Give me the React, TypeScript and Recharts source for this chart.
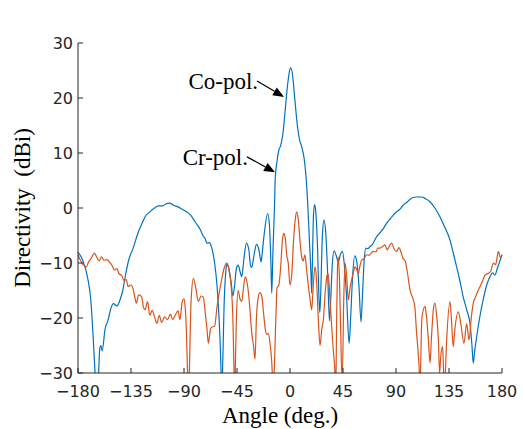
import { LineChart, Line, XAxis, YAxis, ReferenceLine } from 'recharts';

const angleTicks = [-180, -135, -90, -45, 0, 45, 90, 135, 180];
const dbTicks = [-30, -20, -10, 0, 10, 20, 30];

// Co-pol. (angle, dBi) -- values under -30 fall outside the axis and get clipped
const coPolAngle = [
  -180, -176, -172, -169, -167, -165.5, -164, -162.5, -161.5, -160.5, -159.5, -157, -154.5, -152, -150, -147, -144, -142,
  -139.5, -137, -133, -129, -126, -123, -119, -115, -112, -108, -105, -102, -99, -95, -91, -87, -84, -80.6, -78, -76, -74,
  -72, -70.5, -68.5, -66.5, -64, -62, -60.5, -59.4, -58.5, -58, -57.3, -56, -54.5, -53.5, -52, -50, -48.5, -47, -45.5,
  -44, -42.5, -41, -39, -37, -35, -33.5, -32.5, -30.5, -28.5, -26.5, -24.5, -24, -21.5, -19, -17.5, -16.2, -15.5, -14.5,
  -13.2, -12.5, -11, -9.5, -8, -6, -4, -2, 0, 0.6, 2, 4, 6, 8, 10, 12, 13.5, 15, 16.5, 17.8, 18.4, 19, 20, 21, 22, 23.5,
  24.5, 25.3, 26, 27.5, 28.9, 30.5, 32, 33.5, 34.5, 36, 37.5, 39, 41, 43, 44.5, 46, 48, 50.2, 51.5, 53, 55, 56.5, 58.5,
  60.3, 61.5, 63, 64.5, 66, 68, 70, 73.6, 76.4, 79, 82, 85, 88, 91, 93.4, 96, 99, 102, 104.5, 107.5, 110, 112, 115, 119,
  123, 127.3, 131, 135.8, 139, 141.5, 144, 147, 150, 152.8, 154.5, 155.6, 156.8, 158.5, 161, 164, 167, 169.8, 172, 174,
  176, 178, 180,
];
const coPolDb = [
  -8, -9.5, -12.5, -17, -24, -30, -35, -30, -25.5, -25, -26, -22, -20.4, -18.2, -17.4, -17.8, -16.5, -15,
  -12, -9.5, -7.2, -4.5, -3, -1.6, -0.7, 0, 0.4, 0.4, 0.8, 0.9, 0.5, 0.2, -0.3, -0.8, -1.4, -2.5, -3.3, -4, -5,
  -5.6, -6.4, -6.3, -7.2, -10, -14, -19, -24, -30, -35, -30, -18, -11.5, -10.1, -11, -13.5, -16, -14, -11,
  -10.4, -11.5, -12.5, -9, -6.4, -7.5, -10.5, -10.8, -8.5, -6.6, -7.5, -9.8, -9, -4, -1, -3, -10, -15.5, -8,
  0, 5.5, 8.5, 10.5, 11.3, 13.5, 18, 22.5, 25.3, 25.5, 24.5, 20, 15.5, 12.5, 11.1, 9, 6, 1, -6, -12, -15.5, -10, -1, 0.6, -1, -8,
  -16, -19, -16, -5, -2.2, -5, -12, -20.5, -17, -10, -7.8, -8.5, -9.8, -8.3, -7.9, -10, -16, -24.6, -20, -13, -8.7, -9.5, -14,
  -20.7, -16, -9.5, -7.3, -7.4, -7, -6.6, -5.2, -4.5, -3.8, -2.8, -2, -1.2, -0.6, -0.2, 0.5, 1, 1.6, 1.9, 2, 2, 2, 1.7, 1.1,
  0, -1.6, -3.3, -5.8, -8.5, -10.7, -13, -16.1, -18.5, -21, -25, -28.2, -26, -23.4, -20, -16.7, -14, -12.5, -11.8, -12.2,
  -11, -9.8, -8.5,
];

// Cr-pol.
const crPolAngle = [
  -180, -178, -176, -173, -171, -169, -166, -164, -162, -160, -158, -155.5, -153, -151, -149, -147, -145, -143, -141, -139,
  -137.5, -135, -133, -131.5, -130.5, -128.5, -126, -124.5, -123, -121, -119, -117, -115, -113, -111, -109, -106.5, -104,
  -101.5, -99.5, -97.5, -95, -93.5, -91.5, -90, -89, -88, -87, -86.5, -85.5, -84, -82, -80, -77.8, -75.5, -73.6, -72, -70.5,
  -69.3, -67.5, -66, -64, -62, -60, -58, -56, -53.7, -52, -50.5, -49.5, -48.5, -47.5, -47, -46.5, -45.5, -44, -42.5, -41,
  -39.5, -38, -36.5, -35, -34, -32.5, -31, -29.7, -28.5, -27, -25.5, -24, -22.5, -21, -19.8, -18.5, -17, -15.5, -14.5, -13.5,
  -12, -11, -9.5, -8, -6.5, -5.4, -4, -2.8, -1.5, 0, 1.5, 3, 4.5, 5.7, 7, 8.5, 10, 11.2, 12.7, 14, 15.5, 17, 18.4, 19.8, 21.2,
  22.5, 24, 25.5, 27, 28.3, 30, 31.5, 32.5, 33.8, 35.4, 36.8, 38.2, 38.8, 39.5, 40.3, 41, 42, 43, 43.9, 44.5, 45.5, 46.7, 48,
  49.5, 51, 52.4, 54, 55.2, 56.6, 58, 59.4, 60.8, 63, 65, 67, 69, 70.7, 73, 74.5, 76.4, 78.5, 80.6, 82.5, 84.5, 86.3, 88.5,
  90.6, 92.5, 94.5, 96, 97.6, 99.5, 101.9, 104.7, 106, 107.5, 108.7, 109.8, 110.3, 111, 112, 114.6, 116, 117.5, 118.9, 120,
  121.7, 123, 124.5, 126, 127, 128, 129.6, 130.5, 131.5, 133, 135.8, 137, 138.6, 140, 142.9, 145, 147.7, 150, 152, 154,
  155.6, 157.5, 159.9, 161.3, 164, 165.5, 168.3, 170.5, 172.6, 174.5, 177, 178.5, 180,
];
const crPolDb = [
  -8.5, -9.5, -10.2, -10.7, -9.8, -9.2, -8.2, -9, -9.6, -8.9, -9.5, -9.4, -9.9, -10.5, -11.3, -11, -12, -12.2, -13.2, -13,
  -14.3, -14, -14.9, -16.5, -17.3, -15.8, -16.1, -18, -18.5, -17, -19.5, -18.6, -19.8, -21, -19.5, -20.8, -19.8, -20.3,
  -19.3, -20.3, -19.5, -18.7, -20.3, -17, -16.5, -18, -22, -30, -35, -30, -17, -12.8, -14.5, -17, -16, -16.2, -19, -22,
  -24.6, -22, -21.6, -21.5, -18, -15.3, -13, -11, -10, -11, -13, -15.5, -20, -30, -35, -30, -20, -15, -16.5, -17,
  -14.5, -12.5, -13.5, -16, -18.5, -22.7, -25, -27.5, -20, -16.3, -15.4, -16, -19, -22, -23, -22.8, -24.5, -28, -32, -30,
  -20, -14.5, -14, -11, -6, -4.6, -5.5, -8.5, -10, -14, -12, -6, -2, -0.7, -2, -6, -9, -9.6, -8.5, -11, -14, -16.5, -18.5, -14, -10.7,
  -13, -20, -25, -22, -20.4, -15, -12.2, -12, -16, -21.6, -26, -30, -35, -22, -11, -8.9, -13, -22, -30, -30, -18, -10, -12,
  -16.7, -14.5, -13, -11.5, -10.7, -11.2, -11.9, -10.5, -9.5, -9.2, -8.5, -8.6, -8.2, -7.9, -8, -7.3, -7.3, -7, -6.7, -7.6, -6.9, -6.4, -7.5,
  -7.9, -7.2, -8.2, -9.2, -9.5, -11.5, -14.9, -16.7, -18, -22.8, -26, -30, -35, -28, -20, -17.9, -20, -24, -28.2, -24,
  -18.5, -17.3, -19.5, -24, -30, -27, -25.2, -30, -31, -24, -17, -20, -25.2, -22, -18.9, -21, -24.6, -21, -24, -19.8,
  -17.3, -16.2, -14.9, -14.3, -13, -12.2, -11.9, -11.5, -10, -10.3, -7.9, -9, -8.5,
];

const coPol = coPolAngle.map((a, i) => ({ angle: a, db: coPolDb[i] }));
const crPol = crPolAngle.map((a, i) => ({ angle: a, db: crPolDb[i] }));

const AXIS = '#262626';
const SERIF = '"Liberation Serif", "Times New Roman", serif';
const SANS = '"DejaVu Sans", sans-serif';

const fmt = (v: number) => (v < 0 ? '\u2212' + Math.abs(v) : String(v));

function BottomTick({ x, y, payload }: any) {
  return (
    <g>
      <line x1={x} y1={y} x2={x} y2={y - 5} stroke={AXIS} strokeWidth={1} />
      <text x={x} y={y + 24} textAnchor="middle" fontSize={16} fontFamily={SANS} fill={AXIS}>
        {fmt(payload.value)}
      </text>
    </g>
  );
}

function LeftTick({ x, y, payload }: any) {
  return (
    <g>
      <line x1={x} y1={y} x2={x + 5} y2={y} stroke={AXIS} strokeWidth={1} />
      <text x={x - 5} y={y + 6} textAnchor="end" fontSize={16} fontFamily={SANS} fill={AXIS}>
        {fmt(payload.value)}
      </text>
    </g>
  );
}

function TopTick({ x, y }: any) {
  return <line x1={x} y1={y} x2={x} y2={y + 5} stroke={AXIS} strokeWidth={1} />;
}

function RightTick({ x, y }: any) {
  return <line x1={x} y1={y} x2={x - 5} y2={y} stroke={AXIS} strokeWidth={1} />;
}

function Arrow({ x1, y1, x2, y2, text }: any) {
  const dx = x2 - x1;
  const dy = y2 - y1;
  const len = Math.sqrt(dx * dx + dy * dy);
  const ux = dx / len;
  const uy = dy / len;
  const bx = x2 - ux * 11;
  const by = y2 - uy * 11;
  const head = `${x2},${y2} ${bx - uy * 4.5},${by + ux * 4.5} ${bx + uy * 4.5},${by - ux * 4.5}`;
  return (
    <g>
      <line x1={x1} y1={y1} x2={bx} y2={by} stroke="#000" strokeWidth={1.2} />
      <polygon points={head} fill="#000" />
      <text x={x1 + 1} y={y1 + 8} textAnchor="end" fontSize={23} fontFamily={SERIF} fill="#000">
        {text}
      </text>
    </g>
  );
}

export default function App() {
  return (
    <div style={{ position: 'absolute', left: 0, top: 0, width: 523, height: 429, background: '#fff' }}>
      <LineChart width={523} height={429} margin={{ top: 43, right: 21, bottom: 0, left: 0 }}>
        <XAxis
          dataKey="angle"
          type="number"
          domain={[-180, 180]}
          ticks={angleTicks}
          height={56}
          tickSize={0}
          tickMargin={0}
          tickLine={false}
          axisLine={{ stroke: AXIS }}
          tick={<BottomTick />}
          label={{
            content: () => (
              <text x={280} y={423} textAnchor="middle" fontSize={23} fontFamily={SERIF} fill="#000">
                Angle (deg.)
              </text>
            ),
          }}
        />
        <XAxis
          xAxisId="top"
          orientation="top"
          type="number"
          domain={[-180, 180]}
          ticks={angleTicks}
          height={0}
          tickSize={0}
          tickMargin={0}
          tickLine={false}
          axisLine={{ stroke: AXIS }}
          tick={<TopTick />}
          label={{
            content: () => (
              <text x={290} y={27} textAnchor="middle" fontSize={22} fontFamily={SERIF} fill="#000">
                H-plane
              </text>
            ),
          }}
        />
        <YAxis
          type="number"
          domain={[-30, 30]}
          ticks={dbTicks}
          allowDataOverflow
          width={78}
          tickSize={0}
          tickMargin={0}
          tickLine={false}
          axisLine={{ stroke: AXIS }}
          tick={<LeftTick />}
          label={{
            content: () => (
              <text
                x={30}
                y={208}
                transform="rotate(-90 30 208)"
                textAnchor="middle"
                fontSize={23}
                fontFamily={SERIF}
                fill="#000"
                style={{ whiteSpace: 'pre' }}
              >
                {'Directivity  (dBi)'}
              </text>
            ),
          }}
        />
        <YAxis
          yAxisId="right"
          orientation="right"
          type="number"
          domain={[-30, 30]}
          ticks={dbTicks}
          width={0}
          tickSize={0}
          tickMargin={0}
          tickLine={false}
          axisLine={{ stroke: AXIS }}
          tick={<RightTick />}
        />
        <Line
          data={coPol}
          dataKey="db"
          type="monotone"
          stroke="#0072BD"
          strokeWidth={1.2}
          dot={false}
          isAnimationActive={false}
        />
        <Line
          data={crPol}
          dataKey="db"
          type="monotone"
          stroke="#D95319"
          strokeWidth={1.2}
          dot={false}
          isAnimationActive={false}
        />
        <ReferenceLine
          segment={[{ x: -28, y: 23.1 }, { x: -5.1, y: 20.2 }]}
          shape={(p: any) => <Arrow {...p} text="Co-pol." />}
        />
        <ReferenceLine
          segment={[{ x: -36.5, y: 9.3 }, { x: -12.7, y: 6.5 }]}
          shape={(p: any) => <Arrow {...p} text="Cr-pol." />}
        />
      </LineChart>
    </div>
  );
}
